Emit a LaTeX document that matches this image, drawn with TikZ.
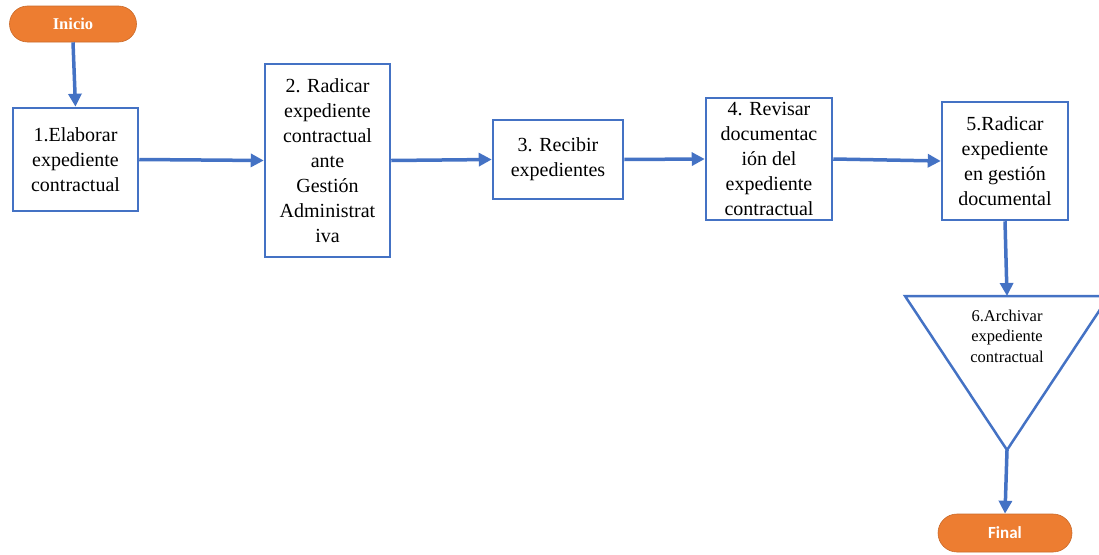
\documentclass[tikz,border=0pt]{standalone}
\usepackage{fontspec}
\setmainfont{Liberation Serif}
\newfontfamily\calibri{Carlito}
\usetikzlibrary{arrows.meta}
\definecolor{flowblue}{HTML}{4472C4}
\definecolor{floworange}{HTML}{ED7D31}
\begin{document}
\begin{tikzpicture}[x=1pt,y=-1pt,
  stepbox/.style={draw=flowblue,line width=2.5pt,fill=white,align=center,inner sep=0pt,
    font=\fontsize{20}{25}\selectfont},
  pill/.style={rectangle,fill=floworange,draw=floworange!85!black,line width=0.6pt,text=white},
  conn/.style={draw=flowblue,line width=3.5pt,-{Triangle[length=13pt,width=13pt]}}]
\useasboundingbox (0,0) rectangle (1099,554);
\clip (0,0) rectangle (1099,554);
\node[pill,rounded corners=18pt,minimum width=127pt,minimum height=36pt,font=\bfseries\fontsize{16.5}{18}\selectfont] (ini) at (73,24) {Inicio};
\node[stepbox,minimum width=125pt,minimum height=103pt] (b1) at (75.5,159.5) {1.Elaborar\\expediente\\contractual};
\node[stepbox,minimum width=125pt,minimum height=193pt] (b2) at (327.5,160.5) {2. Radicar\\expediente\\contractual\\ante\\Gestión\\Administrat\\iva};
\node[stepbox,minimum width=130pt,minimum height=79pt] (b3) at (558,159.5) {3. Recibir\\expedientes};
\node[stepbox,minimum width=126pt,minimum height=122pt] (b4) at (769,159) {4. Revisar\\documentac\\ión del\\expediente\\contractual};
\node[stepbox,minimum width=126pt,minimum height=118pt] (b5) at (1005,161) {5.Radicar\\expediente\\en gestión\\documental};
\coordinate (tl) at (905,296);
\coordinate (tr) at (1109,296);
\coordinate (ttop) at (1007,296);
\coordinate (tap) at (1007,450);
\draw[flowblue,line width=2.5pt,line join=miter] (tl) -- (tr) -- (tap) -- cycle;
\node[align=center,font=\fontsize{16.5}{20.5}\selectfont] (t6) at (1007,336) {6.Archivar\\expediente\\contractual};
\node[pill,minimum width=134pt,minimum height=38pt,rounded corners=19pt,font=\calibri\bfseries\fontsize{17}{19}\selectfont] (fin) at (1005,533) {Final};
\draw[conn] (ini.south) -- (b1.north);
\draw[conn] (b1.east) -- (b2.west);
\draw[conn] (b2.east) -- (b3.west);
\draw[conn] (b3.east) -- (b4.west);
\draw[conn] (b4.east) -- (b5.west);
\draw[conn] (b5.south) -- (ttop);
\draw[conn] (tap) -- (fin.north);
\end{tikzpicture}
\end{document}
